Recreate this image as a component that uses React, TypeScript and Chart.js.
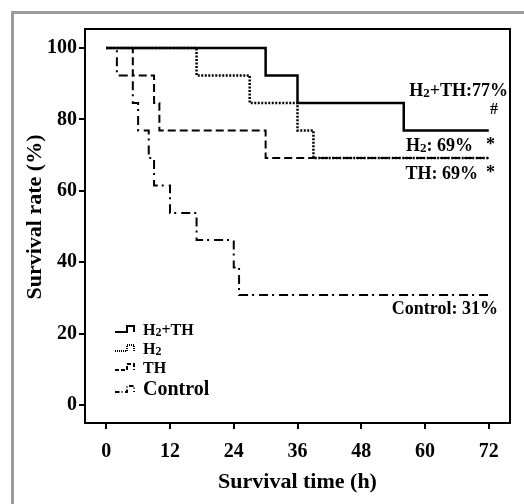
import React, { useEffect, useRef } from "react";
import { Chart, registerables } from "chart.js";

Chart.register(...registerables);

// ---- data ----
const xTicks = [0, 12, 24, 36, 48, 60, 72];
const yTicks = [0, 20, 40, 60, 80, 100];

const seriesNames = ["H₂+TH", "H₂", "TH", "Control"];

const h2thTimes = [0, 30, 36, 56, 72];
const h2thSurvival = [100, 92.3, 84.6, 76.9, 76.9];

const h2Times = [0, 17, 27, 36, 39, 72];
const h2Survival = [100, 92.3, 84.6, 76.9, 69.2, 69.2];

const thTimes = [0, 5, 9, 10, 30, 72];
const thSurvival = [100, 92.3, 84.6, 76.9, 69.2, 69.2];

const controlTimes = [0, 2, 5, 6, 8, 9, 12, 17, 24, 25, 72];
const controlSurvival = [100, 92.3, 84.6, 76.9, 69.2, 61.5, 53.8, 46.2, 38.5, 30.8, 30.8];

const finalLabels = ["H₂+TH:77%", "#", "H₂: 69%", "*", "TH: 69%", "*", "Control: 31%"];

const xTitle = "Survival time (h)";
const yTitle = "Survival rate (%)";

// ---- styles ----
const FONT = '"Liberation Serif", "Times New Roman", serif';
const styles = [
  { width: 2.5, dash: [] as number[] },
  { width: 2.5, dash: [2, 1.5] },
  { width: 2, dash: [8, 4] },
  { width: 2, dash: [9, 4, 2, 5] },
];

function toPoints(t: number[], s: number[]) {
  return t.map((x, i) => ({ x, y: s[i] }));
}

function drawRich(
  ctx: CanvasRenderingContext2D,
  text: string,
  x: number,
  y: number,
  size: number,
  align: "left" | "right"
) {
  const runs: { t: string; sub: boolean }[] = [];
  text.split("₂").forEach((p, i) => {
    if (i > 0) runs.push({ t: "2", sub: true });
    if (p) runs.push({ t: p, sub: false });
  });
  const fontFor = (sub: boolean) => `bold ${sub ? Math.round(size * 0.72) : size}px ${FONT}`;
  let total = 0;
  runs.forEach((r) => {
    ctx.font = fontFor(r.sub);
    total += ctx.measureText(r.t).width;
  });
  let cx = align === "right" ? x - total : x;
  ctx.textAlign = "left";
  ctx.textBaseline = "alphabetic";
  runs.forEach((r) => {
    ctx.font = fontFor(r.sub);
    ctx.fillText(r.t, cx, r.sub ? y + size * 0.08 : y);
    cx += ctx.measureText(r.t).width;
  });
}

const decorPlugin = {
  id: "decor",
  beforeDraw(chart: any) {
    const ctx = chart.ctx as CanvasRenderingContext2D;
    ctx.save();
    ctx.fillStyle = "#ffffff";
    ctx.fillRect(0, 0, chart.width, chart.height);
    ctx.fillStyle = "#9c9c9c";
    ctx.fillRect(11, 11, 3, chart.height - 11);
    ctx.fillRect(11, 11, chart.width - 11, 3);
    ctx.restore();
  },
  afterDraw(chart: any) {
    const ctx = chart.ctx as CanvasRenderingContext2D;
    const a = chart.chartArea;
    ctx.save();
    // plot frame
    ctx.strokeStyle = "#000";
    ctx.lineWidth = 2;
    ctx.setLineDash([]);
    ctx.strokeRect(a.left, a.top, a.right - a.left, a.bottom - a.top);

    // y axis title
    ctx.save();
    ctx.translate(35, 217);
    ctx.rotate(-Math.PI / 2);
    ctx.font = `bold 22px ${FONT}`;
    ctx.fillStyle = "#000";
    ctx.textAlign = "center";
    ctx.textBaseline = "middle";
    ctx.fillText(yTitle, 0, 0);
    ctx.restore();

    // end-of-curve annotations
    ctx.fillStyle = "#000";
    drawRich(ctx, finalLabels[0], a.right - 2, 96, 18, "right");
    drawRich(ctx, finalLabels[1], a.right - 12, 114, 16, "right");
    drawRich(ctx, finalLabels[2], a.right - 37, 151, 18, "right");
    drawRich(ctx, finalLabels[3], a.right - 15, 150, 18, "right");
    drawRich(ctx, finalLabels[4], a.right - 32, 179, 18, "right");
    drawRich(ctx, finalLabels[5], a.right - 15, 178, 18, "right");
    drawRich(ctx, finalLabels[6], a.right - 12, 314, 18, "right");

    // legend
    const baselines = [335, 354, 373, 395];
    const sizes = [16, 16, 16, 20];
    seriesNames.forEach((name, i) => {
      const b = baselines[i];
      const st = styles[i];
      ctx.strokeStyle = "#000";
      ctx.lineWidth = 2;
      ctx.setLineDash(st.dash.map((d) => Math.max(1, d * 0.5)));
      ctx.beginPath();
      ctx.moveTo(115, b - 3);
      ctx.lineTo(127, b - 3);
      ctx.lineTo(127, b - 9);
      ctx.lineTo(134, b - 9);
      ctx.lineTo(134, b - 3);
      ctx.stroke();
      ctx.setLineDash([]);
      drawRich(ctx, name, 143, b, sizes[i], "left");
    });
    ctx.restore();
  },
};

export default function App() {
  const ref = useRef<HTMLCanvasElement | null>(null);
  useEffect(() => {
    if (!ref.current) return;
    const tickFont = { family: FONT, size: 20, weight: "bold" as const };
    const titleFont = { family: FONT, size: 22, weight: "bold" as const };
    const seriesData = [
      toPoints(h2thTimes, h2thSurvival),
      toPoints(h2Times, h2Survival),
      toPoints(thTimes, thSurvival),
      toPoints(controlTimes, controlSurvival),
    ];
    const chart = new Chart(ref.current, {
      type: "line",
      data: {
        datasets: seriesNames.map((name, i) => ({
          label: name,
          data: seriesData[i],
          borderColor: "#000",
          backgroundColor: "#000",
          borderWidth: styles[i].width,
          borderDash: styles[i].dash,
          borderCapStyle: "butt" as const,
          pointRadius: 0,
          pointHoverRadius: 0,
          stepped: "before" as const,
          tension: 0,
          fill: false,
        })),
      },
      options: {
        responsive: false,
        animation: false,
        events: [],
        layout: { padding: { top: 29, right: 14, left: 0, bottom: 0 } },
        plugins: { legend: { display: false }, tooltip: { enabled: false } },
        scales: {
          x: {
            type: "linear",
            min: -4,
            max: 76,
            afterBuildTicks: (s: any) => {
              s.ticks = xTicks.map((v) => ({ value: v }));
            },
            afterFit: (s: any) => {
              s.height = 81;
            },
            grid: {
              display: true,
              drawOnChartArea: false,
              drawTicks: true,
              tickLength: 6,
              color: "#000",
              lineWidth: 2,
            },
            border: { display: false },
            ticks: {
              font: tickFont,
              color: "#000",
              padding: 11,
              maxRotation: 0,
              autoSkip: false,
            },
            title: {
              display: true,
              text: xTitle,
              font: titleFont,
              color: "#000",
              padding: { top: 0, bottom: 8 },
            },
          },
          y: {
            type: "linear",
            min: -5,
            max: 105.3,
            afterBuildTicks: (s: any) => {
              s.ticks = yTicks.map((v) => ({ value: v }));
            },
            afterFit: (s: any) => {
              s.width = 85;
            },
            grid: {
              display: true,
              drawOnChartArea: false,
              drawTicks: true,
              tickLength: 6,
              color: "#000",
              lineWidth: 2,
            },
            border: { display: false },
            ticks: { font: tickFont, color: "#000", padding: 2, autoSkip: false },
            title: { display: false, text: yTitle },
          },
        },
      },
      plugins: [decorPlugin],
    });
    return () => chart.destroy();
  }, []);
  return (
    <div
      style={{
        position: "fixed",
        left: 0,
        top: 0,
        width: 524,
        height: 504,
        background: "#fff",
      }}
    >
      <canvas ref={ref} width={524} height={504} style={{ display: "block", width: 524, height: 504 }} />
    </div>
  );
}
